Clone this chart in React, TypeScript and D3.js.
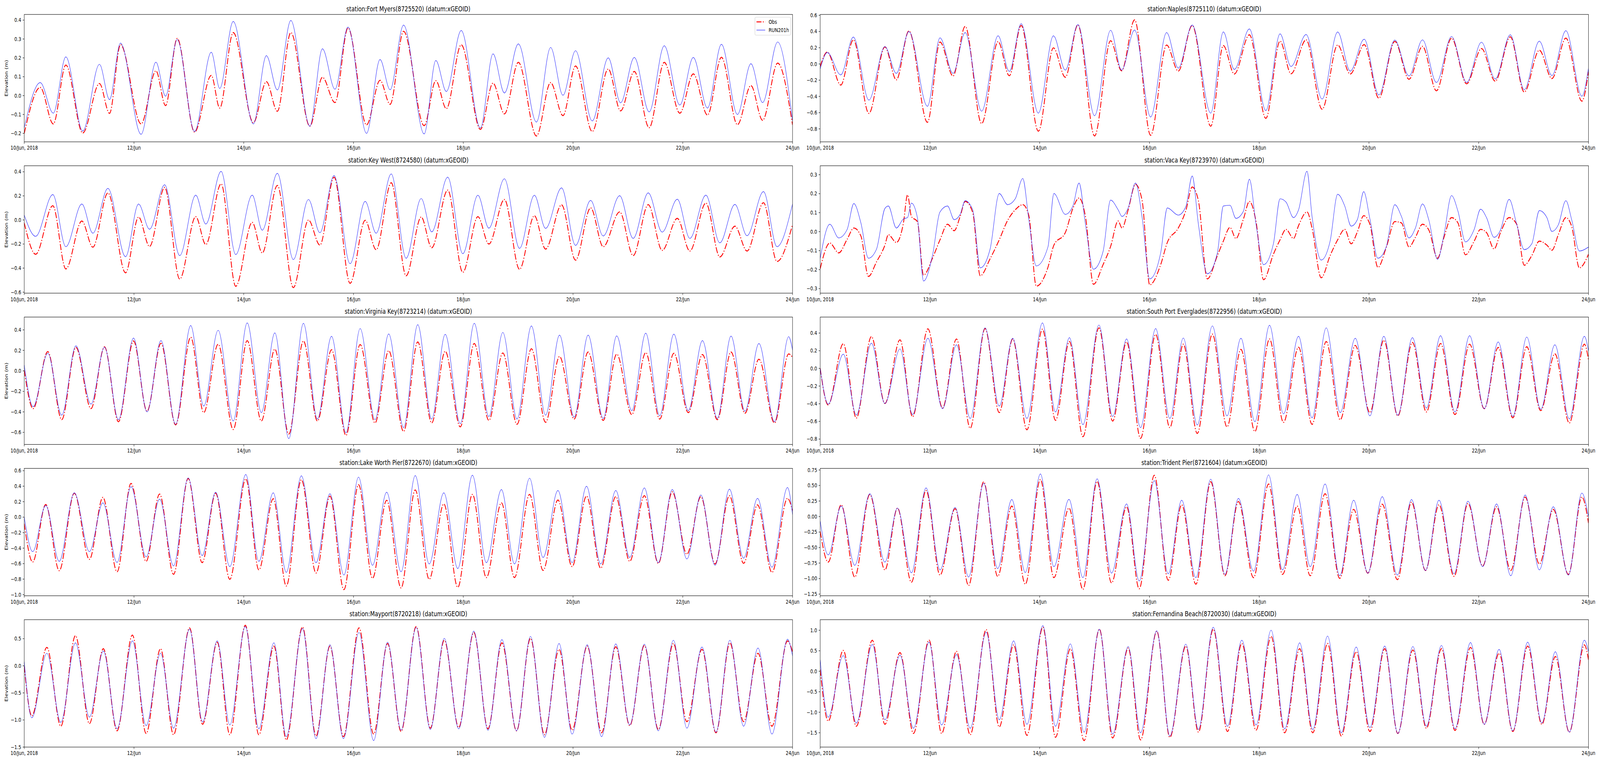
import * as d3 from "d3";
import React, { useEffect } from "react";

// figure geometry (matplotlib-like 5 x 2 grid)
const FIG_W = 5150;
const FIG_H = 1950;
const AX_W = 2473;
const AX_H = 326;
const COL_X = [78, 2640];
const ROW_Y0 = 37;
const ROW_STEP = 387.2;

const xTickHours = [0, 48, 96, 144, 192, 240, 288, 336];
const xTickLabels = ["10/Jun, 2018", "12/Jun", "14/Jun", "16/Jun", "18/Jun", "20/Jun", "22/Jun", "24/Jun"];

// ---- Fort Myers ----
const fortMyersHours = [0, 7.0, 12.7, 18.2, 25.6, 32.9, 37.3, 42.1, 51.1, 57.6, 61.8, 66.9, 74.5, 81.8, 85.5, 91.4, 100.2, 105.9, 110.7, 116.6, 124.9, 130.4, 135.9, 141.6, 149.7, 155.6, 160.0, 165.9, 174.9, 180.0, 184.6, 191.1, 199.5, 205.0, 210.0, 216.1, 224.0, 230.2, 235.6, 241.1, 248.4, 255.4, 260.8, 266.8, 273.3, 279.9, 286.7, 292.6, 298.8, 304.9, 311.9, 317.8, 322.9, 329.5, 336];
const fortMyersObs = [-0.2, 0.043, -0.15, 0.162, -0.198, 0.064, -0.094, 0.27, -0.15, 0.131, -0.053, 0.303, -0.193, 0.107, -0.066, 0.334, -0.143, 0.074, -0.083, 0.334, -0.162, 0.097, -0.037, 0.359, -0.155, 0.081, -0.046, 0.341, -0.159, 0.079, -0.069, 0.269, -0.179, 0.066, -0.097, 0.176, -0.214, 0.069, -0.106, 0.157, -0.19, 0.141, -0.081, 0.128, -0.17, 0.176, -0.093, 0.115, -0.103, 0.203, -0.154, 0.053, -0.131, 0.172, -0.155];
const fortMyersMod = [-0.17, 0.069, -0.093, 0.205, -0.188, 0.166, -0.021, 0.278, -0.205, 0.177, -0.003, 0.297, -0.19, 0.23, 0.038, 0.393, -0.15, 0.212, 0.03, 0.398, -0.162, 0.248, 0.034, 0.363, -0.2, 0.191, 0.031, 0.374, -0.203, 0.186, 0.022, 0.345, -0.172, 0.221, 0.014, 0.274, -0.14, 0.255, 0.002, 0.238, -0.134, 0.2, -0.038, 0.202, -0.086, 0.264, -0.05, 0.202, -0.066, 0.272, -0.1, 0.169, -0.037, 0.284, -0.134];

// ---- Naples ----
const naplesHours = [0, 3.1, 9.0, 14.5, 21.3, 28.3, 33.3, 38.8, 46.9, 52.4, 58.1, 63.4, 70.6, 77.8, 82.7, 87.9, 95.4, 102.0, 107.2, 112.7, 120.0, 127.0, 131.8, 137.5, 144.5, 151.5, 156.6, 162.7, 170.8, 176.3, 181.1, 187.7, 194.9, 201.1, 205.9, 212.5, 219.5, 226.3, 231.8, 237.9, 244.3, 251.3, 257.5, 263.4, 269.5, 276.1, 282.7, 289.2, 295.2, 301.8, 307.9, 314.5, 320.0, 326.1, 333.1, 336];
const naplesObs = [-0.03, 0.146, -0.26, 0.297, -0.609, 0.21, -0.196, 0.407, -0.719, 0.27, -0.148, 0.463, -0.735, 0.275, -0.145, 0.474, -0.828, 0.198, -0.164, 0.482, -0.887, 0.286, -0.084, 0.543, -0.879, 0.233, -0.088, 0.474, -0.767, 0.227, -0.124, 0.359, -0.67, 0.281, -0.121, 0.297, -0.558, 0.233, -0.124, 0.238, -0.421, 0.278, -0.188, 0.217, -0.33, 0.318, -0.244, 0.19, -0.212, 0.334, -0.346, 0.169, -0.18, 0.318, -0.458, -0.092];
const naplesMod = [-0.06, 0.141, -0.135, 0.331, -0.445, 0.214, -0.116, 0.399, -0.521, 0.322, -0.116, 0.387, -0.582, 0.347, -0.092, 0.495, -0.606, 0.347, -0.076, 0.484, -0.638, 0.415, -0.076, 0.418, -0.654, 0.387, -0.051, 0.479, -0.606, 0.395, -0.068, 0.431, -0.574, 0.371, -0.031, 0.363, -0.432, 0.394, -0.088, 0.305, -0.381, 0.294, -0.148, 0.297, -0.228, 0.338, -0.228, 0.268, -0.185, 0.359, -0.317, 0.281, -0.143, 0.41, -0.397, -0.051];

// ---- Key West ----
const keyWestHours = [0, 5.0, 12.5, 18.2, 25.2, 30.0, 36.6, 44.3, 50.0, 54.8, 61.4, 68.0, 75.0, 79.4, 86.1, 92.5, 99.7, 104.1, 110.7, 117.7, 124.3, 129.3, 135.5, 142.5, 149.1, 153.9, 160.5, 167.0, 173.6, 178.2, 185.2, 191.8, 198.4, 203.2, 210.0, 216.6, 223.1, 228.0, 235.0, 241.1, 247.7, 253.2, 260.4, 266.3, 272.9, 279.0, 285.6, 291.1, 298.1, 304.2, 310.8, 316.1, 323.3, 329.2, 336];
const keyWestObs = [-0.025, -0.285, 0.118, -0.407, -0.009, -0.226, 0.224, -0.439, 0.024, -0.22, 0.27, -0.491, 0.027, -0.204, 0.3, -0.551, -0.02, -0.274, 0.287, -0.562, -0.001, -0.209, 0.355, -0.526, -0.003, -0.247, 0.309, -0.464, 0.024, -0.231, 0.248, -0.435, 0.027, -0.2, 0.17, -0.41, 0.035, -0.242, 0.125, -0.334, 0.1, -0.222, 0.067, -0.296, 0.127, -0.253, 0.013, -0.258, 0.14, -0.307, -0.052, -0.258, 0.143, -0.345, -0.039];
const keyWestMod = [0.04, -0.136, 0.211, -0.222, 0.132, -0.11, 0.262, -0.305, 0.132, -0.077, 0.292, -0.296, 0.206, -0.034, 0.403, -0.287, 0.206, -0.085, 0.387, -0.329, 0.17, -0.106, 0.368, -0.363, 0.154, -0.11, 0.382, -0.318, 0.178, -0.099, 0.355, -0.28, 0.205, -0.068, 0.342, -0.236, 0.205, -0.07, 0.266, -0.211, 0.162, -0.133, 0.201, -0.153, 0.225, -0.101, 0.172, -0.153, 0.206, -0.19, 0.129, -0.131, 0.235, -0.222, 0.132];

// ---- Vaca Key ----
const vacaKeyHours = [0, 4.2, 8.1, 11.8, 14.7, 17.8, 21.1, 24.6, 28.3, 29.8, 33.3, 36.4, 38.2, 39.9, 42.5, 45.2, 49.1, 52.4, 55.7, 58.6, 61.2, 63.4, 66.7, 70.0, 74.3, 78.3, 82.0, 85.3, 88.6, 91.2, 94.5, 99.6, 102.2, 107.2, 110.5, 113.2, 116.0, 119.5, 123.7, 127.0, 130.3, 132.0, 134.6, 137.9, 140.8, 144.1, 148.9, 151.8, 156.6, 159.9, 162.7, 165.4, 169.3, 173.7, 176.3, 179.2, 181.8, 185.1, 187.7, 190.6, 193.9, 198.2, 201.1, 203.7, 207.0, 209.2, 212.9, 215.1, 219.1, 223.0, 226.3, 229.4, 232.2, 234.9, 237.7, 240.4, 243.9, 247.6, 251.3, 254.2, 257.5, 260.3, 263.4, 266.2, 270.0, 272.8, 276.1, 278.9, 282.2, 286.0, 288.8, 291.4, 294.7, 297.6, 301.3, 304.6, 307.9, 311.2, 314.5, 317.8, 320.0, 322.8, 326.1, 328.7, 332.0, 336];
const vacaKeyObs = [-0.195, -0.06, -0.112, -0.04, 0.019, -0.023, -0.236, -0.16, -0.071, -0.016, -0.057, 0.046, 0.194, 0.08, 0.053, -0.229, -0.14, -0.043, 0.039, 0.005, 0.08, 0.159, 0.101, -0.232, -0.143, -0.043, 0.06, 0.115, 0.142, 0.087, -0.287, -0.188, -0.071, -0.005, 0.122, 0.177, 0.08, -0.277, -0.174, -0.078, 0.056, 0.019, 0.111, 0.249, 0.163, -0.28, -0.174, -0.057, 0.019, 0.111, 0.235, 0.163, -0.249, -0.126, -0.05, 0.022, -0.036, 0.067, 0.159, 0.053, -0.253, -0.119, -0.043, 0.012, -0.036, 0.032, 0.104, 0.019, -0.243, -0.126, -0.043, 0.012, -0.064, -0.002, 0.084, 0.039, -0.188, -0.081, 0.053, 0.046, -0.081, -0.03, 0.039, 0.008, -0.14, -0.03, 0.074, 0.046, -0.122, -0.05, 0.012, -0.005, -0.091, -0.002, 0.074, 0.039, -0.177, -0.126, -0.05, -0.071, -0.098, -0.016, 0.074, 0.025, -0.191, -0.119];
const vacaKeyMod = [-0.14, 0.039, -0.033, 0.012, 0.148, 0.046, -0.14, -0.093, 0.122, 0.135, 0.019, 0.067, 0.074, 0.15, 0.074, -0.26, -0.126, 0.104, 0.135, 0.063, 0.091, 0.163, 0.115, -0.191, -0.092, 0.201, 0.142, 0.173, 0.28, 0.067, -0.181, -0.081, 0.201, 0.091, 0.135, 0.256, 0.039, -0.198, -0.105, 0.166, 0.115, 0.08, 0.122, 0.256, 0.074, -0.249, -0.112, 0.125, 0.087, 0.132, 0.293, 0.039, -0.222, -0.112, 0.135, 0.139, 0.07, 0.108, 0.276, 0.039, -0.174, -0.064, 0.173, 0.156, 0.074, 0.115, 0.318, 0.08, -0.15, -0.05, 0.197, 0.135, 0.029, 0.063, 0.211, 0.067, -0.14, -0.078, 0.142, 0.08, -0.033, 0.019, 0.146, 0.06, -0.146, -0.016, 0.19, 0.108, -0.054, 0.012, 0.118, 0.074, -0.03, 0.012, 0.17, 0.039, -0.095, -0.064, 0.111, 0.074, 0.001, 0.036, 0.163, 0.06, -0.102, -0.081];

// ---- Virginia Key ----
const virginiaKeyHours = [0, 3.9, 10.3, 16.4, 22.6, 29.2, 35.1, 41.2, 47.8, 53.7, 59.8, 66.2, 72.8, 78.5, 84.8, 91.4, 97.5, 103.7, 109.6, 115.7, 122.1, 128.2, 134.4, 140.7, 146.9, 153.4, 159.4, 165.9, 172.1, 178.2, 184.1, 190.7, 196.8, 203.2, 209.3, 215.5, 221.8, 228.0, 234.1, 240.5, 246.6, 253.2, 259.1, 265.7, 271.8, 277.9, 284.1, 290.4, 296.6, 303.1, 309.1, 315.2, 321.3, 328.1, 334.3, 336];
const virginiaKeyObs = [0.006, -0.368, 0.188, -0.476, 0.229, -0.368, 0.235, -0.496, 0.292, -0.394, 0.269, -0.527, 0.328, -0.407, 0.26, -0.572, 0.295, -0.489, 0.212, -0.616, 0.292, -0.489, 0.206, -0.629, 0.257, -0.508, 0.197, -0.591, 0.282, -0.508, 0.191, -0.546, 0.267, -0.483, 0.175, -0.521, 0.216, -0.502, 0.14, -0.47, 0.184, -0.483, 0.163, -0.426, 0.178, -0.47, 0.172, -0.407, 0.159, -0.476, 0.184, -0.413, 0.114, -0.508, 0.165, 0.133];
const virginiaKeyMod = [0.057, -0.349, 0.172, -0.432, 0.244, -0.324, 0.231, -0.476, 0.32, -0.4, 0.295, -0.521, 0.442, -0.343, 0.396, -0.489, 0.468, -0.407, 0.371, -0.661, 0.464, -0.47, 0.337, -0.604, 0.413, -0.476, 0.36, -0.553, 0.451, -0.47, 0.356, -0.515, 0.464, -0.445, 0.375, -0.47, 0.438, -0.432, 0.349, -0.451, 0.349, -0.464, 0.341, -0.388, 0.368, -0.438, 0.358, -0.388, 0.295, -0.464, 0.339, -0.394, 0.267, -0.496, 0.334, 0.203];

// ---- South Port Everglades ----
const southPortHours = [0, 3.5, 10.1, 15.8, 22.4, 28.3, 34.9, 40.4, 47.1, 53.5, 59.6, 65.6, 72.1, 78.3, 84.2, 90.4, 97.2, 102.9, 109.0, 114.9, 121.9, 127.9, 134.0, 140.1, 146.7, 152.9, 158.8, 164.9, 171.5, 177.9, 184.0, 190.1, 196.5, 202.6, 209.2, 215.1, 221.3, 227.4, 234.0, 240.4, 246.5, 252.6, 259.0, 265.1, 271.3, 277.6, 284.0, 290.4, 296.5, 302.9, 309.0, 315.1, 321.3, 327.6, 334.2, 336];
const southPortObs = [0.0, -0.414, 0.279, -0.562, 0.36, -0.397, 0.323, -0.547, 0.448, -0.448, 0.333, -0.677, 0.451, -0.5, 0.333, -0.695, 0.444, -0.588, 0.304, -0.773, 0.459, -0.596, 0.299, -0.792, 0.385, -0.67, 0.274, -0.736, 0.388, -0.662, 0.215, -0.714, 0.333, -0.611, 0.24, -0.633, 0.304, -0.581, 0.26, -0.5, 0.319, -0.537, 0.294, -0.493, 0.282, -0.522, 0.274, -0.456, 0.237, -0.559, 0.245, -0.478, 0.164, -0.618, 0.274, 0.097];
const southPortMod = [0.0, -0.404, 0.161, -0.527, 0.285, -0.397, 0.22, -0.522, 0.341, -0.456, 0.267, -0.566, 0.459, -0.426, 0.341, -0.566, 0.515, -0.493, 0.348, -0.636, 0.491, -0.544, 0.333, -0.67, 0.451, -0.566, 0.344, -0.64, 0.481, -0.537, 0.341, -0.603, 0.488, -0.515, 0.363, -0.559, 0.459, -0.5, 0.341, -0.537, 0.363, -0.53, 0.348, -0.448, 0.37, -0.493, 0.37, -0.456, 0.299, -0.544, 0.355, -0.463, 0.267, -0.571, 0.363, 0.193];

// ---- Lake Worth Pier ----
const lakeWorthHours = [0, 3.7, 9.4, 15.3, 21.9, 28.5, 34.4, 40.6, 46.7, 53.3, 59.2, 65.3, 71.7, 77.8, 83.7, 89.9, 96.9, 102.6, 108.9, 114.6, 121.2, 127.6, 133.7, 139.8, 146.2, 152.3, 158.5, 164.8, 171.0, 177.1, 183.5, 189.6, 196.0, 202.1, 208.7, 214.4, 221.0, 226.9, 233.4, 239.6, 245.9, 252.1, 258.7, 264.8, 271.2, 277.3, 283.4, 289.8, 295.9, 302.1, 308.4, 314.6, 320.7, 327.0, 333.8, 336];
const lakeWorthObs = [-0.084, -0.579, 0.164, -0.691, 0.31, -0.545, 0.255, -0.705, 0.436, -0.57, 0.299, -0.738, 0.5, -0.587, 0.31, -0.802, 0.495, -0.68, 0.238, -0.889, 0.483, -0.721, 0.272, -0.936, 0.419, -0.789, 0.218, -0.914, 0.352, -0.802, 0.171, -0.906, 0.294, -0.78, 0.185, -0.78, 0.294, -0.688, 0.221, -0.638, 0.272, -0.658, 0.265, -0.57, 0.277, -0.596, 0.327, -0.478, 0.265, -0.604, 0.277, -0.596, 0.159, -0.713, 0.243, 0.084];
const lakeWorthMod = [0.0, -0.445, 0.151, -0.57, 0.315, -0.445, 0.185, -0.584, 0.394, -0.512, 0.232, -0.629, 0.507, -0.495, 0.322, -0.638, 0.55, -0.57, 0.315, -0.713, 0.534, -0.587, 0.302, -0.747, 0.517, -0.621, 0.322, -0.705, 0.537, -0.604, 0.315, -0.663, 0.542, -0.587, 0.356, -0.604, 0.503, -0.52, 0.344, -0.587, 0.399, -0.604, 0.344, -0.52, 0.378, -0.587, 0.356, -0.54, 0.285, -0.621, 0.361, -0.529, 0.243, -0.646, 0.383, 0.034];

// ---- Trident Pier ----
const tridentHours = [0, 3.5, 9.2, 15.1, 21.7, 28.3, 33.8, 39.9, 46.3, 52.4, 59.0, 64.9, 71.5, 77.6, 83.8, 89.7, 96.3, 102.2, 108.8, 114.9, 121.1, 127.4, 134.0, 139.5, 146.1, 152.2, 158.1, 164.3, 170.8, 177.0, 182.9, 189.5, 196.1, 202.2, 208.6, 214.3, 220.8, 227.2, 233.3, 239.5, 245.8, 252.4, 258.6, 264.7, 270.6, 277.2, 283.3, 289.7, 295.8, 302.0, 308.3, 314.5, 320.6, 327.2, 333.1, 336];
const tridentObs = [-0.241, -0.734, 0.189, -0.975, 0.356, -0.86, 0.136, -1.059, 0.419, -0.943, 0.126, -1.111, 0.56, -0.964, 0.168, -1.09, 0.597, -0.985, 0.136, -1.174, 0.566, -1.069, 0.157, -1.164, 0.665, -1.027, 0.189, -1.09, 0.56, -0.954, 0.241, -0.985, 0.524, -0.933, 0.168, -0.954, 0.367, -0.996, 0.115, -0.912, 0.199, -1.017, 0.231, -0.87, 0.189, -0.964, 0.21, -0.797, 0.157, -0.87, 0.314, -0.765, 0.115, -0.933, 0.314, -0.105];
const tridentMod = [-0.073, -0.618, 0.168, -0.786, 0.367, -0.734, 0.136, -0.906, 0.461, -0.86, 0.147, -0.975, 0.535, -0.839, 0.273, -0.901, 0.686, -0.807, 0.277, -0.985, 0.608, -0.912, 0.203, -1.038, 0.577, -0.922, 0.262, -0.985, 0.602, -0.933, 0.293, -0.88, 0.671, -0.86, 0.356, -0.807, 0.524, -0.954, 0.262, -0.912, 0.319, -0.943, 0.273, -0.87, 0.262, -0.922, 0.247, -0.807, 0.203, -0.954, 0.346, -0.86, 0.157, -0.943, 0.377, -0.01];

// ---- Mayport ----
const mayportHours = [0, 3.3, 9.9, 16.0, 22.4, 28.5, 34.6, 40.6, 47.3, 53.3, 59.6, 65.3, 72.3, 78.0, 84.4, 89.9, 96.7, 102.6, 109.2, 114.6, 121.7, 127.6, 133.7, 139.6, 146.4, 152.8, 158.9, 164.8, 171.4, 177.6, 183.7, 190.0, 196.6, 202.8, 208.9, 215.3, 221.4, 227.5, 233.9, 239.6, 246.2, 252.5, 258.7, 264.8, 271.2, 277.3, 283.9, 289.8, 296.4, 302.5, 308.6, 314.6, 320.9, 327.0, 333.8, 336];
const mayportObs = [-0.01, -0.923, 0.339, -1.115, 0.555, -1.067, 0.315, -1.2, 0.567, -1.248, 0.315, -1.272, 0.7, -1.079, 0.435, -1.272, 0.748, -1.272, 0.363, -1.368, 0.716, -1.296, 0.363, -1.308, 0.7, -1.26, 0.411, -1.212, 0.724, -1.151, 0.471, -1.139, 0.615, -1.163, 0.423, -1.2, 0.507, -1.272, 0.303, -1.188, 0.363, -1.236, 0.351, -1.103, 0.375, -1.175, 0.411, -1.031, 0.303, -1.236, 0.423, -1.031, 0.231, -1.115, 0.459, 0.255];
const mayportMod = [0.075, -0.959, 0.231, -1.043, 0.423, -0.947, 0.274, -1.163, 0.459, -1.103, 0.231, -1.151, 0.675, -1.038, 0.459, -1.091, 0.724, -1.163, 0.423, -1.308, 0.688, -1.344, 0.387, -1.344, 0.615, -1.38, 0.435, -1.188, 0.707, -1.175, 0.507, -1.163, 0.639, -1.188, 0.483, -1.2, 0.543, -1.32, 0.411, -1.26, 0.387, -1.308, 0.404, -1.091, 0.399, -1.2, 0.471, -1.151, 0.346, -1.224, 0.471, -1.115, 0.327, -1.26, 0.49, 0.183];

// ---- Fernandina Beach ----
const fernandinaHours = [0, 3.5, 10.1, 15.8, 22.8, 28.3, 34.9, 40.8, 47.6, 53.1, 59.6, 65.6, 72.6, 78.3, 84.6, 90.4, 97.4, 102.9, 109.4, 115.4, 122.1, 127.9, 134.7, 140.1, 147.2, 152.9, 159.9, 165.4, 171.9, 178.1, 184.4, 190.6, 197.2, 203.1, 209.7, 215.4, 221.9, 227.9, 234.4, 240.4, 246.9, 252.6, 259.2, 265.1, 271.7, 277.6, 284.4, 290.4, 296.9, 302.9, 309.4, 315.6, 321.5, 327.6, 334.2, 336];
const fernandinaObs = [0.041, -1.215, 0.509, -1.342, 0.757, -1.294, 0.455, -1.517, 0.763, -1.517, 0.486, -1.548, 1.017, -1.358, 0.645, -1.564, 1.075, -1.612, 0.55, -1.692, 1.027, -1.628, 0.566, -1.676, 0.979, -1.612, 0.614, -1.485, 1.027, -1.469, 0.677, -1.437, 0.852, -1.501, 0.55, -1.501, 0.677, -1.58, 0.477, -1.469, 0.55, -1.517, 0.518, -1.39, 0.55, -1.444, 0.582, -1.294, 0.439, -1.469, 0.614, -1.294, 0.359, -1.485, 0.645, 0.28];
const fernandinaMod = [0.28, -1.119, 0.382, -1.262, 0.652, -1.183, 0.391, -1.39, 0.709, -1.31, 0.407, -1.39, 0.954, -1.183, 0.741, -1.294, 1.113, -1.342, 0.668, -1.485, 1.027, -1.533, 0.604, -1.501, 0.986, -1.58, 0.661, -1.421, 1.075, -1.342, 0.757, -1.31, 1.002, -1.405, 0.693, -1.421, 0.859, -1.501, 0.591, -1.374, 0.614, -1.517, 0.604, -1.342, 0.63, -1.405, 0.7, -1.294, 0.534, -1.453, 0.709, -1.262, 0.477, -1.485, 0.757, 0.471];

// station names / ids, in subplot order (row-major, 2 columns)
const stationNames = ["Fort Myers", "Naples", "Key West", "Vaca Key", "Virginia Key", "South Port Everglades", "Lake Worth Pier", "Trident Pier", "Mayport", "Fernandina Beach"];
const stationIds = ["8725520", "8725110", "8724580", "8723970", "8723214", "8722956", "8722670", "8721604", "8720218", "8720030"];
const stationHours = [fortMyersHours, naplesHours, keyWestHours, vacaKeyHours, virginiaKeyHours, southPortHours, lakeWorthHours, tridentHours, mayportHours, fernandinaHours];
const stationObs = [fortMyersObs, naplesObs, keyWestObs, vacaKeyObs, virginiaKeyObs, southPortObs, lakeWorthObs, tridentObs, mayportObs, fernandinaObs];
const stationMod = [fortMyersMod, naplesMod, keyWestMod, vacaKeyMod, virginiaKeyMod, southPortMod, lakeWorthMod, tridentMod, mayportMod, fernandinaMod];
const yLimits: [number, number][] = [
	[-0.245, 0.43], [-0.96, 0.61], [-0.608, 0.45], [-0.324, 0.347], [-0.718, 0.525],
	[-0.861, 0.581], [-1.015, 0.63], [-1.277, 0.776], [-1.5, 0.851], [-1.85, 1.259],
];
const yTickValues = [
	[-0.2, -0.1, 0, 0.1, 0.2, 0.3, 0.4],
	[-0.8, -0.6, -0.4, -0.2, 0, 0.2, 0.4, 0.6],
	[-0.6, -0.4, -0.2, 0, 0.2, 0.4],
	[-0.3, -0.2, -0.1, 0, 0.1, 0.2, 0.3],
	[-0.6, -0.4, -0.2, 0, 0.2, 0.4],
	[-0.8, -0.6, -0.4, -0.2, 0, 0.2, 0.4],
	[-1.0, -0.8, -0.6, -0.4, -0.2, 0, 0.2, 0.4, 0.6],
	[-1.25, -1.0, -0.75, -0.5, -0.25, 0, 0.25, 0.5, 0.75],
	[-1.5, -1.0, -0.5, 0, 0.5],
	[-1.5, -1.0, -0.5, 0, 0.5, 1.0],
];
const yTickDecimals = [1, 1, 1, 1, 1, 1, 1, 2, 1, 1];

const FONT = "DejaVu Sans, sans-serif";
const TICK_FS = 13.9;
const TICK_LEN = 4.9;
const OBS_DASH = "16,4.4,2.8,4.4";

interface PanelProps {
	idx: number;
	x0: number;
	y0: number;
	yLabel: boolean;
	legend: boolean;
}

const Panel = ({ idx, x0, y0, yLabel, legend }: PanelProps) => {
	const xScale = d3.scaleLinear().domain([0, 336]).range([0, AX_W]);
	const yScale = d3.scaleLinear().domain(yLimits[idx]).range([AX_H, 0]);
	const line = d3
		.line<[number, number]>()
		.x((d) => xScale(d[0]))
		.y((d) => yScale(d[1]))
		.curve(d3.curveMonotoneX);
	const hours = stationHours[idx];
	const obsPath = line(hours.map((h, i) => [h, stationObs[idx][i]] as [number, number])) ?? "";
	const modPath = line(hours.map((h, i) => [h, stationMod[idx][i]] as [number, number])) ?? "";
	const fmt = d3.format(`.${yTickDecimals[idx]}f`);
	const clipId = `clip-${idx}`;

	return (
		<g transform={`translate(${x0},${y0})`} fontFamily={FONT}>
			<defs>
				<clipPath id={clipId}>
					<rect x={0} y={0} width={AX_W} height={AX_H} />
				</clipPath>
			</defs>
			<text x={AX_W / 2} y={-8.5} textAnchor="middle" fontSize={17.5} fill="#000">
				{`station:${stationNames[idx]}(${stationIds[idx]}) (datum:xGEOID)`}
			</text>
			<g clipPath={`url(#${clipId})`}>
				<path d={obsPath} fill="none" stroke="#ff0000" strokeWidth={2.6} strokeDasharray={OBS_DASH} />
				<path d={modPath} fill="none" stroke="#1a1aff" strokeWidth={1.2} />
			</g>
			<rect x={0} y={0} width={AX_W} height={AX_H} fill="none" stroke="#000" strokeWidth={1.1} />
			{xTickHours.map((h, i) => (
				<g key={`xt${i}`} transform={`translate(${xScale(h)},${AX_H})`}>
					<line y2={TICK_LEN} stroke="#000" strokeWidth={1.1} />
					<text y={TICK_LEN + 4.9} dy="0.76em" textAnchor="middle" fontSize={TICK_FS}>
						{xTickLabels[i]}
					</text>
				</g>
			))}
			{yTickValues[idx].map((v, i) => (
				<g key={`yt${i}`} transform={`translate(0,${yScale(v)})`}>
					<line x2={-TICK_LEN} stroke="#000" strokeWidth={1.1} />
					<text x={-TICK_LEN - 4.9} dy="0.35em" textAnchor="end" fontSize={TICK_FS}>
						{fmt(v)}
					</text>
				</g>
			))}
			{yLabel && (
				<text
					transform={`translate(${20 - x0},${AX_H / 2}) rotate(-90)`}
					textAnchor="middle"
					dy="0.35em"
					fontSize={TICK_FS}
				>
					Elevation (m)
				</text>
			)}
			{legend && (
				<g transform={`translate(${AX_W - 121},7)`}>
					<rect width={115} height={46} rx={3} fill="#fff" fillOpacity={0.8} stroke="#cccccc" strokeWidth={1} />
					<line x1={5} x2={33} y1={12} y2={12} stroke="#ff0000" strokeWidth={2.6} strokeDasharray={OBS_DASH} />
					<text x={44} y={12} dy="0.35em" fontSize={TICK_FS}>Obs</text>
					<line x1={5} x2={33} y1={33} y2={33} stroke="#1a1aff" strokeWidth={1.2} />
					<text x={44} y={33} dy="0.35em" fontSize={TICK_FS}>RUN201h</text>
				</g>
			)}
		</g>
	);
};

const App = () => {
	useEffect(() => {
		document.body.style.margin = "0";
		document.body.style.overflow = "hidden";
	}, []);

	// the svg always fills the viewport; the viewBox keeps the 5150 x 1950 figure units
	return (
		<svg
			viewBox={`0 0 ${FIG_W} ${FIG_H}`}
			preserveAspectRatio="none"
			style={{ position: "fixed", left: 0, top: 0, width: "100vw", height: "100vh", display: "block", background: "#fff" }}
		>
			<rect width={FIG_W} height={FIG_H} fill="#fff" />
			{stationNames.map((_, i) => (
				<Panel
					key={i}
					idx={i}
					x0={COL_X[i % 2]}
					y0={ROW_Y0 + Math.floor(i / 2) * ROW_STEP}
					yLabel={i % 2 === 0}
					legend={i === 0}
				/>
			))}
		</svg>
	);
};

export default App;
